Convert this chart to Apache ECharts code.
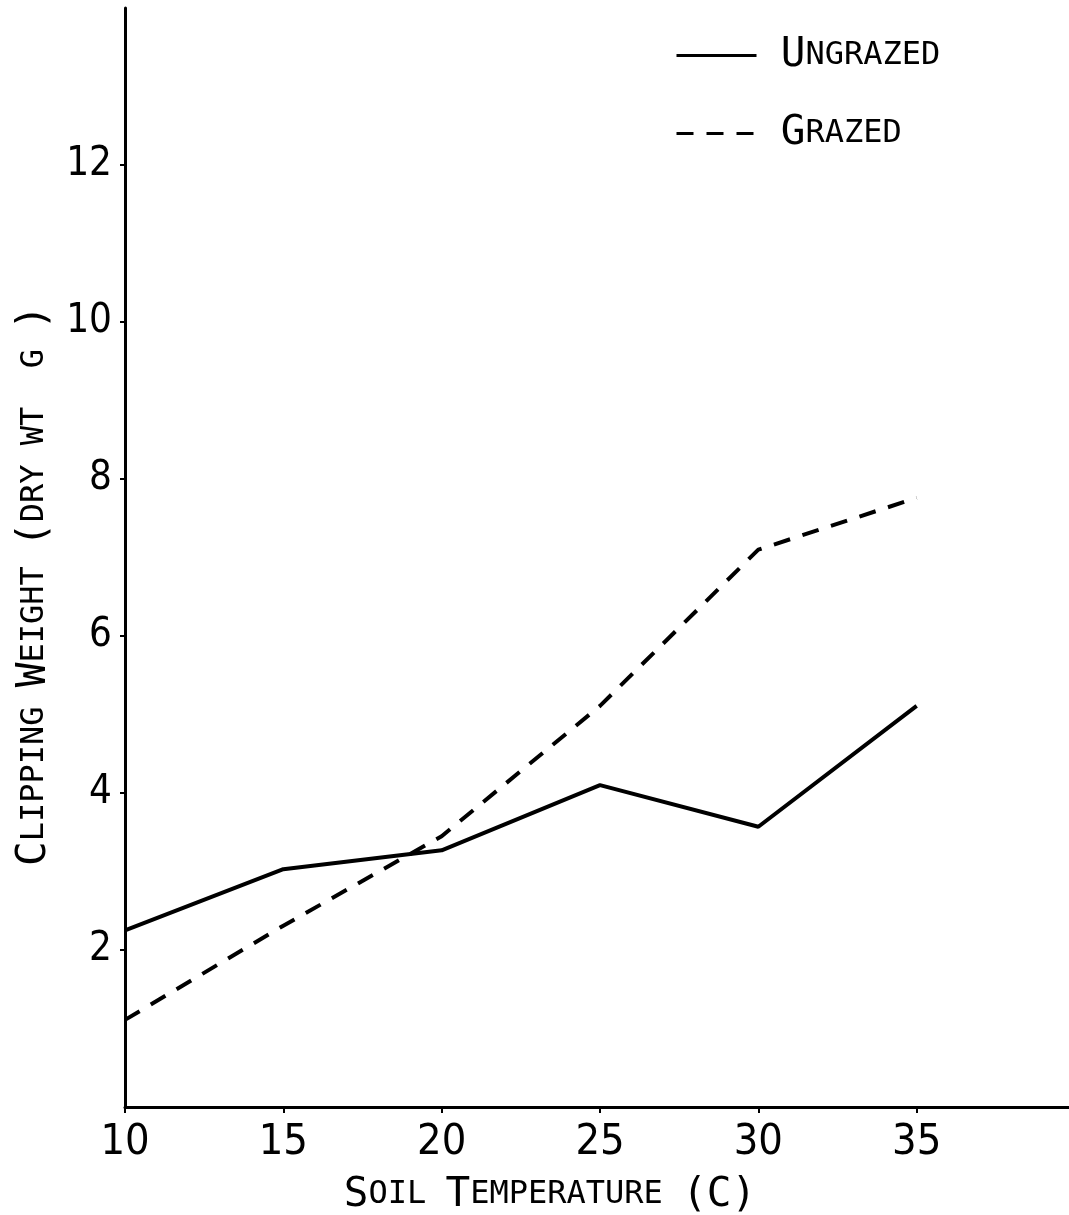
<!DOCTYPE html>
<html>
<head>
<meta charset="utf-8">
<script src="https://cdn.jsdelivr.net/npm/echarts@6/dist/echarts.min.js"></script>
<style>
  html, body { margin: 0; padding: 0; background: #fff; }
  #chart { width: 1069px; height: 1215px; }
</style>
</head>
<body>
<div id="chart"></div>
<script>
var temps = [10, 15, 20, 25, 30, 35];
var ungrazed = [2.25, 3.03, 3.27, 4.1, 3.57, 5.11];
var grazed = [1.11, 2.31, 3.45, 5.11, 7.1, 7.76];
var xTicks = [10, 15, 20, 25, 30, 35];
var yTicks = [2, 4, 6, 8, 10, 12];

var labelFont = '"DejaVu Sans Condensed", "Liberation Sans Narrow", sans-serif';
var titleFont = '"DejaVu Sans Mono", monospace';

// small caps built from two sizes
var capsRich = {
    a: { fontFamily: titleFont, fontSize: 41, lineHeight: 44, color: '#000' },
    b: { fontFamily: titleFont, fontSize: 32, lineHeight: 44, color: '#000' }
};

function pairs(ys) {
    return temps.map(function (t, i) { return [t, ys[i]]; });
}

var chart = echarts.init(document.getElementById('chart'));
chart.setOption({
    backgroundColor: '#fff',
    animation: false,
    grid: { left: 125, top: 8, width: 950, bottom: 108, containLabel: false, outerBoundsMode: 'none' },
    legend: {
        orient: 'vertical',
        left: 670,
        top: 30,
        itemWidth: 80,
        itemHeight: 14,
        itemGap: 37,
        selectedMode: false,
        itemStyle: { opacity: 0 },
        lineStyle: { width: 3 },
        textStyle: { rich: capsRich },
        formatter: function (name) {
            return '{b| }{a|' + name.charAt(0) + '}{b|' + name.slice(1) + '}';
        },
        data: ['UNGRAZED', 'GRAZED']
    },
    xAxis: {
        type: 'value',
        min: 10,
        max: 40,
        interval: 5,
        splitLine: { show: false },
        axisLine: { lineStyle: { color: '#000', width: 3 } },
        axisTick: { length: 6, lineStyle: { color: '#000', width: 2 }, customValues: xTicks },
        axisLabel: {
            color: '#000', fontFamily: labelFont, fontSize: 43, margin: 14,
            customValues: xTicks
        },
        name: '{a|S}{b|OIL }{a|T}{b|EMPERATURE }{a|(C)}',
        nameLocation: 'middle',
        nameGap: 66,
        nameTextStyle: { rich: capsRich, padding: [0, 100, 0, 0] }
    },
    yAxis: {
        type: 'value',
        min: 0,
        max: 14,
        interval: 2,
        splitLine: { show: false },
        axisLine: { lineStyle: { color: '#000', width: 3 } },
        axisTick: { length: 5, lineStyle: { color: '#000', width: 2 }, customValues: yTicks },
        axisLabel: {
            color: '#000', fontFamily: labelFont, fontSize: 40, margin: 13,
            customValues: yTicks
        },
        name: '{a|C}{b|LIPPING }{a|W}{b|EIGHT }{a|(}{b|DRY WT  G }{a|)}',
        nameLocation: 'middle',
        nameGap: 64,
        nameTextStyle: { rich: capsRich, padding: [0, 56, 0, 0] }
    },
    series: [
        {
            name: 'UNGRAZED',
            type: 'line',
            symbol: 'none',
            data: pairs(ungrazed),
            lineStyle: { color: '#000', width: 4 },
            itemStyle: { color: '#000' }
        },
        {
            name: 'GRAZED',
            type: 'line',
            symbol: 'none',
            data: pairs(grazed),
            lineStyle: { color: '#000', width: 4, type: [17, 13] },
            itemStyle: { color: '#000' }
        }
    ]
});
</script>
</body>
</html>
